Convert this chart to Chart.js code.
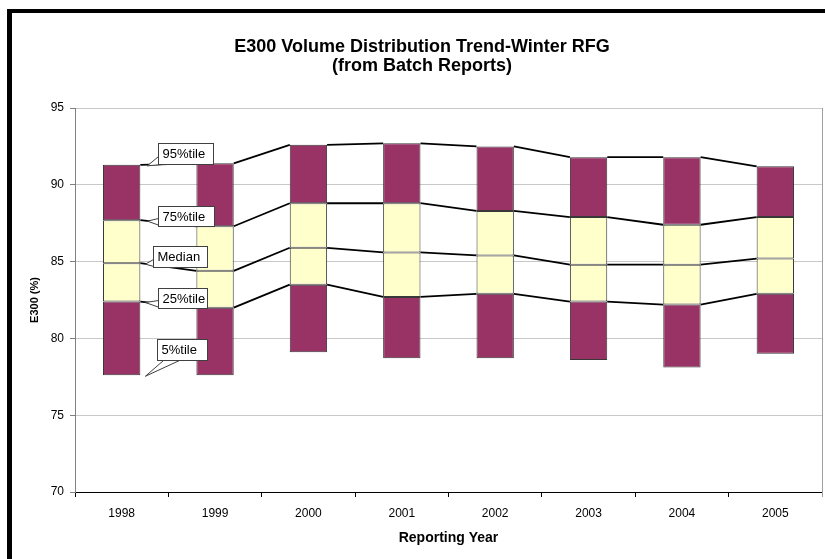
<!DOCTYPE html>
<html>
<head>
<meta charset="utf-8">
<script src="https://cdn.jsdelivr.net/npm/chart.js@4"></script>
<style>
  html, body { margin: 0; padding: 0; background: #ffffff; }
  #wrap { position: relative; width: 825px; height: 559px; }
  canvas { display: block; }
</style>
</head>
<body>
<div id="wrap"><canvas id="c" width="825" height="559"></canvas></div>
<script>
const years = ['1998', '1999', '2000', '2001', '2002', '2003', '2004', '2005'];
const p5  = [77.6, 77.6, 79.1, 78.7, 78.7, 78.6, 78.1, 79.0];
const p25 = [82.4, 82.0, 83.5, 82.7, 82.9, 82.4, 82.2, 82.9];
const p50 = [84.9, 84.4, 85.9, 85.6, 85.4, 84.8, 84.8, 85.2];
const p75 = [87.7, 87.3, 88.8, 88.8, 88.3, 87.9, 87.4, 87.9];
const p95 = [91.3, 91.4, 92.6, 92.7, 92.5, 91.8, 91.8, 91.2];
const yTicks = [70, 75, 80, 85, 90, 95];
const calloutLabels = ['95%tile', '75%tile', 'Median', '25%tile', '5%tile'];
const titleLines = ['E300 Volume Distribution Trend-Winter RFG', '(from Batch Reports)'];
const xTitle = 'Reporting Year';
const yTitle = 'E300 (%)';

const FONT = "'Liberation Sans', Arial, sans-serif";
const PURPLE = '#993366';
const YELLOW = '#FFFFCC';

function seg(lo, hi) { return lo.map((v, i) => [v, hi[i]]); }

const segments = [
  { data: seg(p5, p25), color: PURPLE },
  { data: seg(p25, p50), color: YELLOW },
  { data: seg(p50, p75), color: YELLOW },
  { data: seg(p75, p95), color: PURPLE }
];

const framePlugin = {
  id: 'frame',
  beforeDraw(chart) {
    const ctx = chart.ctx;
    ctx.save();
    ctx.fillStyle = '#ffffff';
    ctx.fillRect(0, 0, chart.width, chart.height);
    ctx.restore();
  },
  afterDatasetsDraw(chart) {
    // series lines connecting segment tops between adjacent bars
    const ctx = chart.ctx;
    ctx.save();
    ctx.strokeStyle = '#000000';
    ctx.lineWidth = 1.8;
    for (let d = 0; d < chart.data.datasets.length; d++) {
      const meta = chart.getDatasetMeta(d);
      for (let i = 0; i < meta.data.length - 1; i++) {
        const a = meta.data[i], b = meta.data[i + 1];
        const ya = Math.min(a.y, a.base), yb = Math.min(b.y, b.base);
        ctx.beginPath();
        ctx.moveTo(a.x + a.width / 2, ya);
        ctx.lineTo(b.x - b.width / 2, yb);
        ctx.stroke();
      }
    }
    ctx.restore();
  },
  afterDraw(chart) {
    const ctx = chart.ctx;
    const area = chart.chartArea;
    ctx.save();
    // plot area right border
    ctx.strokeStyle = '#a0a0a0';
    ctx.lineWidth = 1;
    ctx.beginPath();
    ctx.moveTo(area.right + 0.5, area.top);
    ctx.lineTo(area.right + 0.5, area.bottom + 5);
    ctx.stroke();

    // callouts anchored to first bar
    const yScale = chart.scales.y;
    const bar = chart.getDatasetMeta(0).data[0];
    const right = bar.x + bar.width / 2;
    const vals = [p95[0], p75[0], p50[0], p25[0], p5[0]];
    const offs = [
      { ax: 7, dx: 11, dy: -23, w: 55, h: 21, tip: 'left' },
      { ax: 7, dx: 11, dy: -15, w: 56, h: 20, tip: 'left' },
      { ax: 5, dx: 8, dy: -18, w: 54, h: 21, tip: 'left' },
      { ax: 5, dx: 13, dy: -15, w: 49, h: 20, tip: 'left' },
      { ax: 5, dx: 12, dy: -37, w: 50, h: 21, tip: 'bottom' }
    ];
    ctx.font = '13px ' + FONT;
    ctx.textBaseline = 'middle';
    ctx.textAlign = 'left';
    for (let k = 0; k < calloutLabels.length; k++) {
      const o = offs[k];
      const axp = right + o.ax;
      const ayp = yScale.getPixelForValue(vals[k]) + 1;
      const bx = Math.round(axp + o.dx) + 0.5;
      const by = Math.round(ayp + o.dy) + 0.5;
      // pointer wedge
      ctx.fillStyle = '#ffffff';
      ctx.strokeStyle = '#404040';
      ctx.lineWidth = 1;
      ctx.beginPath();
      if (o.tip === 'left') {
        ctx.moveTo(bx, by + o.h - 8);
        ctx.lineTo(axp, ayp);
        ctx.lineTo(bx + 4, by + o.h);
      } else {
        ctx.moveTo(bx + 6, by + o.h);
        ctx.lineTo(axp, ayp);
        ctx.lineTo(bx + 22, by + o.h);
      }
      ctx.closePath();
      ctx.fill();
      ctx.stroke();
      // box
      ctx.fillRect(bx, by, o.w, o.h);
      ctx.strokeRect(bx, by, o.w, o.h);
      ctx.fillStyle = '#000000';
      ctx.fillText(calloutLabels[k], bx + 4, by + o.h / 2 + 0.5);
    }

    // chart title
    ctx.fillStyle = '#000000';
    ctx.textAlign = 'center';
    ctx.textBaseline = 'middle';
    ctx.font = 'bold 18px ' + FONT;
    ctx.fillText(titleLines[0], 422, 47);
    ctx.fillText(titleLines[1], 422, 66);

    // outer frame (black) top and left
    ctx.fillStyle = '#000000';
    ctx.fillRect(7, 9, 825 - 7, 4);
    ctx.fillRect(7, 9, 5, 559 - 9);
    ctx.restore();
  }
};

new Chart(document.getElementById('c'), {
  type: 'bar',
  data: {
    labels: years,
    datasets: segments.map((s, i) => ({
      label: 'seg' + i,
      data: s.data,
      backgroundColor: s.color,
      borderColor: '#383838',
      borderWidth: 1,
      borderSkipped: false,
      grouped: false,
      categoryPercentage: 1.0,
      barPercentage: 0.4
    }))
  },
  options: {
    responsive: false,
    animation: false,
    devicePixelRatio: 1,
    layout: { padding: { left: 12, top: 108, right: 3, bottom: 0 } },
    plugins: {
      legend: { display: false },
      title: { display: false },
      tooltip: { enabled: false }
    },
    scales: {
      x: {
        offset: true,
        grid: { offset: true, drawOnChartArea: false, drawTicks: true, tickLength: 5, tickColor: '#000000' },
        border: { color: '#000000', width: 1 },
        ticks: { font: { size: 12, family: FONT }, color: '#000000', padding: 9, maxRotation: 0 },
        title: { display: true, text: xTitle, color: '#000000', font: { size: 14, weight: 'bold', family: FONT }, padding: { top: 0, bottom: 12 } },
        afterFit(s) { s.height = 67; }
      },
      y: {
        min: 70, max: 95,
        afterBuildTicks(s) { s.ticks = yTicks.map(v => ({ value: v })); },
        ticks: { font: { size: 12, family: FONT }, color: '#000000', padding: 6 },
        grid: { color: '#c8c8c8', tickLength: 5, tickColor: '#808080' },
        border: { color: '#808080', width: 1 },
        title: { display: true, text: yTitle, color: '#000000', font: { size: 11, weight: 'bold', family: FONT }, padding: { top: 16, bottom: 0 } },
        afterFit(s) { s.width = 63; }
      }
    }
  },
  plugins: [framePlugin]
});
</script>
</body>
</html>
